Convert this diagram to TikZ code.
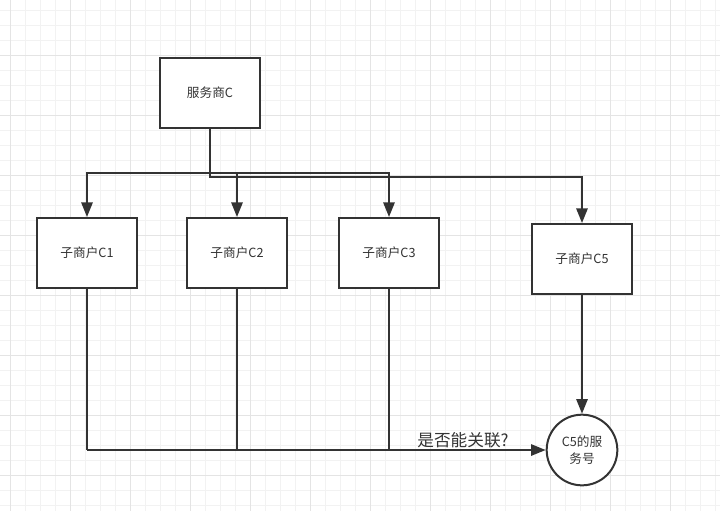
\documentclass[tikz,border=0pt]{standalone}
\usepackage{fontspec}
\setmainfont{Noto Sans CJK SC}
\usetikzlibrary{arrows.meta}

\definecolor{ink}{HTML}{333333}
\definecolor{gridminor}{HTML}{F2F2F2}
\definecolor{gridmajor}{HTML}{E4E4E4}

\tikzset{
  box/.style={draw=ink, line width=1.5pt, fill=white, minimum width=75pt, minimum height=52.5pt,
    inner sep=0pt, font=\fontsize{9.5}{11}\selectfont, text=ink},
  hao/.style={circle, draw=ink, line width=1.5pt, fill=white, minimum size=53pt, inner sep=0pt,
    align=center, font=\fontsize{9.5}{13}\selectfont, text=ink},
  link/.style={draw=ink, line width=1.5pt},
  arr/.style={link, -{Triangle[length=11pt, width=8.5pt]}}
}

\begin{document}
\begin{tikzpicture}[x=0.75pt,y=-0.75pt]
\useasboundingbox (0,0) rectangle (720,511);
\fill[white] (0,0) rectangle (720,511);
% background grid
\foreach \gx in {10,25,...,715} \draw[gridminor, line width=0.75pt] (\gx,0) -- (\gx,511);
\foreach \gy in {10,25,...,505} \draw[gridminor, line width=0.75pt] (0,\gy) -- (720,\gy);
\foreach \gx in {10,70,...,715} \draw[gridmajor, line width=0.75pt] (\gx,0) -- (\gx,511);
\foreach \gy in {55,115,...,505} \draw[gridmajor, line width=0.75pt] (0,\gy) -- (720,\gy);

\node[box] (svc) at (210,93) {服务商C};
\node[box] (c1) at (87,253) {子商户C1};
\node[box] (c2) at (237,253) {子商户C2};
\node[box] (c3) at (389,253) {子商户C3};
\node[box] (c5) at (582,259) {子商户C5};
\node[hao] (fwh) at (582,450) {C5的服\\务号};

\coordinate (fork) at (210,173);
\coordinate (join) at (87,450);

\draw[link] (svc.south) -- (fork);
\draw[arr] (fork) -| (c1.north);
\draw[arr] (fork) -| (c2.north);
\draw[arr] (fork) -| (c3.north);
\draw[arr] (svc.south) -- ++(0,48) -| (c5.north);

\draw[link] (c1.south) -- (join);
\draw[link] (c2.south) -- (c2.south |- join);
\draw[link] (c3.south) -- (c3.south |- join);
\draw[arr] (join) -- (fwh.west);
\draw[arr] (c5.south) -- (fwh.north);

\node[text=ink, font=\fontsize{12.5}{14}\selectfont] (ask) at (463,440) {是否能关联?};
\end{tikzpicture}
\end{document}
